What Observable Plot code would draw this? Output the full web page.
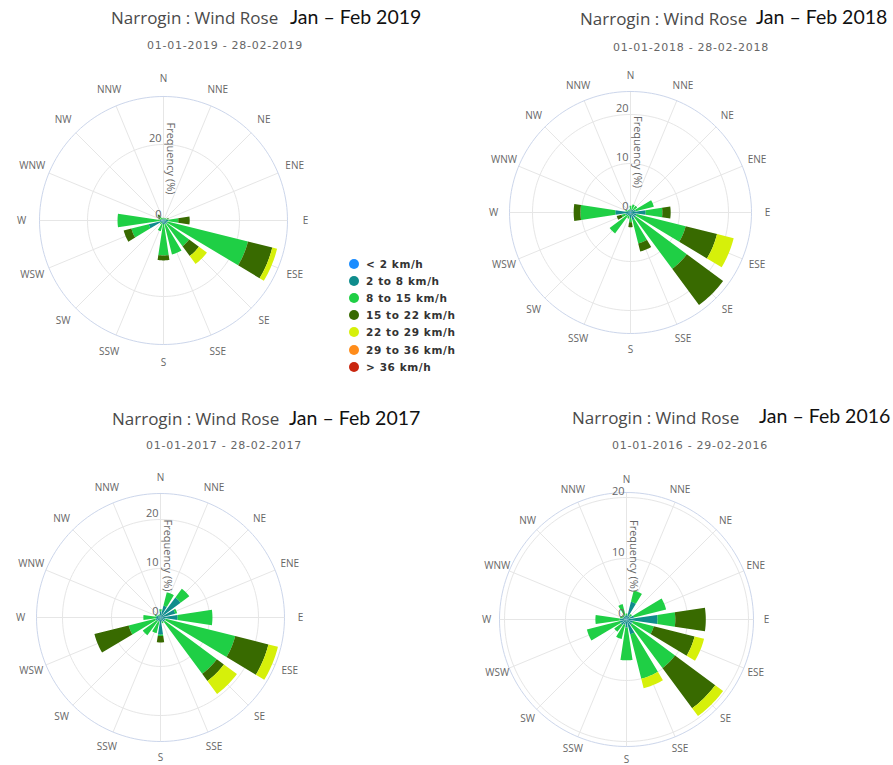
<!DOCTYPE html>
<html><head><meta charset="utf-8">
<script src="https://cdn.jsdelivr.net/npm/d3@7"></script>
<script src="https://cdn.jsdelivr.net/npm/@observablehq/plot@0.6"></script>
<style>
html,body{margin:0;padding:0;background:#fff;}
#page{position:relative;width:893px;height:765px;overflow:hidden;background:#fff;}
.t{position:absolute;white-space:nowrap;transform:translateY(-50%);line-height:1.2;}
.title{font-family:'Open Sans',sans-serif;font-size:17px;color:#4a4a4a;}
.year{font-family:Lato,'Liberation Sans',sans-serif;font-size:19.5px;color:#111;}
.sub{font-family:'DejaVu Sans',sans-serif;font-size:11px;color:#666;letter-spacing:0.75px;transform:translate(-50%,-50%);}
.legend{position:absolute;left:349px;top:255px;font-family:'DejaVu Sans',sans-serif;font-weight:bold;font-size:10.5px;letter-spacing:0.6px;color:#333;}
.legend .row{height:17.2px;display:flex;align-items:center;white-space:nowrap;}
.legend .dot{width:10px;height:10px;border-radius:50%;display:inline-block;margin-right:7px;}
svg.rose{position:absolute;}
</style></head><body><div id="page"></div>
<script>
// ---------- data ----------
const dirs = ["N","NNE","NE","ENE","E","ESE","SE","SSE","S","SSW","SW","WSW","W","WNW","NW","NNW"];
const bins = ["< 2 km/h","2 to 8 km/h","8 to 15 km/h","15 to 22 km/h","22 to 29 km/h","29 to 36 km/h","> 36 km/h"];
const binColors = ["#1a8cff","#0f8c8c","#1fcf45","#386a00","#d6f00a","#ff8c1a","#c9260f"];

// frequency (%) per speed bin (rows) and direction (columns, N..NNW)
const f2019 = [
  [0.1,0.1,0.1,0.1,0.1,0.1,0.1,0.1,0.1,0.1,0.1,0.5,0.2,0.1,0.1,0.1],
  [0.3,0.4,0.4,0.6,1.2,1.0,1.0,1.0,0.8,0.8,0.5,3.5,0.8,0.4,0.4,0.3],
  [0.3,0.2,0.3,0.5,2.6,21.8,7.3,8.1,8.3,2.0,0.6,4.7,11.1,0.6,0.8,0.3],
  [0,0,0,0.2,3.0,6.6,3.2,0,1.3,0,0,2.1,0,0.3,0.7,0],
  [0,0,0,0,0,1.3,2.6,0,0,0,0,0,0,0,0,0],
  [0,0,0,0,0,0,0,0,0,0,0,0,0,0,0,0],
  [0,0,0,0,0,0,0,0,0,0,0,0,0,0,0,0]
];
const f2018 = [
  [0.1,0.1,0.1,0.1,0.2,0.1,0.1,0.1,0.1,0.1,0.1,0.1,0.3,0.1,0.1,0.1],
  [0.5,0.6,0.6,1.0,2.9,1.2,1.2,1.5,1.0,0.7,0.6,1.0,2.8,0.6,0.4,0.4],
  [0.8,1.0,1.0,3.8,3.4,10.3,13.0,4.9,0.9,0.5,4.6,0.8,7.1,0.4,0.2,0.2],
  [0,0,0,0,1.7,6.6,9.2,1.7,1.0,0,0,1.0,1.4,0,0,0],
  [0,0,0,0,0,3.5,0,0,0,0,0,0,0,0,0,0],
  [0,0,0,0,0,0,0,0,0,0,0,0,0,0,0,0],
  [0,0,0,0,0,0,0,0,0,0,0,0,0,0,0,0]
];
const f2017 = [
  [0.1,0.1,0.1,0.1,0.1,0.1,0.1,0.1,0.1,0.1,0.1,0.1,0.1,0.1,0.1,0.1],
  [1.2,2.4,5.0,3.0,3.4,1.0,1.0,0.8,3.4,0.8,0.8,1.0,0.8,0.8,0.4,0.4],
  [0.4,2.8,2.2,0.4,7.1,14.6,13.2,0.3,0.3,2.4,3.6,5.6,2.6,0.3,0.2,0.2],
  [0,0,0,0,0,7.0,1.8,0,1.3,0,0,7.2,0,0,0,0],
  [0,0,0,0,0,2.0,3.3,0,0,0,0,0,0,0,0,0],
  [0,0,0,0,0,0,0,0,0,0,0,0,0,0,0,0],
  [0,0,0,0,0,0,0,0,0,0,0,0,0,0,0,0]
];
const f2016 = [
  [0.1,0.1,0.1,0.1,0.2,0.1,0.1,0.1,0.1,0.1,0.1,0.1,0.1,0.1,0.1,0.1],
  [0.6,2.9,0.6,1.2,4.9,1.0,1.0,2.4,1.2,0.8,1.0,1.0,1.0,0.6,0.5,0.6],
  [0.3,1.9,0.4,5.4,2.9,3.5,8.8,7.5,5.4,2.4,1.4,5.6,4.0,0.4,0.3,1.9],
  [0,0,0,0,5.0,6.9,8.2,0,0,0,0,0,0,0,0,0],
  [0,0,0,0,0,1.6,1.6,1.6,0,0,0,0,0,0,0,0],
  [0,0,0,0,0,0,0,0,0,0,0,0,0,0,0,0],
  [0,0,0,0,0,0,0,0,0,0,0,0,0,0,0,0]
];
const ticks2019 = [0, 20];
const ticks2018 = [0, 10, 20];
const ticks2017 = [0, 10, 20];
const ticks2016 = [0, 10, 20];
const chartTitle = "Narrogin : Wind Rose";
const axisTitle = "Frequency (%)";

// ---------- layout ----------
const panels = [
  {values: f2019, ticks: ticks2019, year: "Jan – Feb 2019", sub: "01-01-2019 - 28-02-2019",
   cx: 163, cy: 220, ppu: 3.8, outerPx: 124, lab: 18, tx: 111, ty: 18, yx: 290, yy: 17, sx: 225, sy: 46},
  {values: f2018, ticks: ticks2018, year: "Jan – Feb 2018", sub: "01-01-2018 - 28-02-2018",
   cx: 630, cy: 212, ppu: 4.9, outerPx: 121, lab: 16, tx: 580, ty: 19, yx: 756, yy: 17, sx: 691, sy: 48},
  {values: f2017, ticks: ticks2017, year: "Jan – Feb 2017", sub: "01-01-2017 - 28-02-2017",
   cx: 160, cy: 617, ppu: 4.9, outerPx: 124, lab: 16, tx: 112, ty: 419, yx: 289, yy: 418, sx: 224, sy: 446},
  {values: f2016, ticks: ticks2016, year: "Jan – Feb 2016", sub: "01-01-2016 - 29-02-2016",
   cx: 626, cy: 619, ppu: 6.1, outerPx: 127, lab: 13, tx: 572, ty: 418, yx: 759, yy: 416, sx: 690, sy: 446}
];

const page = document.getElementById("page");
const S = 320, C = 160, HALF_W = 8.5, rad = Math.PI / 180;

function ring(r, key) {
  return d3.range(0, 361, 2).map(a => ({key, x: r * Math.sin(a * rad), y: r * Math.cos(a * rad)}));
}

function wedges(values) {
  const rows = [];
  dirs.forEach((d, i) => {
    let base = 0;
    bins.forEach((b, j) => {
      const v = values[j][i];
      if (v > 0) {
        const key = d + "|" + j;
        const a0 = (i * 22.5 - HALF_W), a1 = (i * 22.5 + HALF_W);
        const r0 = base, r1 = base + v;
        for (let s = 0; s <= 12; s++) {
          const a = (a0 + (a1 - a0) * s / 12) * rad;
          rows.push({key, bin: b, x: r1 * Math.sin(a), y: r1 * Math.cos(a)});
        }
        for (let s = 12; s >= 0; s--) {
          const a = (a0 + (a1 - a0) * s / 12) * rad;
          rows.push({key, bin: b, x: r0 * Math.sin(a), y: r0 * Math.cos(a)});
        }
      }
      base += v;
    });
  });
  return rows;
}

function addText(cls, text, x, y) {
  const el = document.createElement("div");
  el.className = "t " + cls;
  el.textContent = text;
  el.style.left = x + "px";
  el.style.top = y + "px";
  page.appendChild(el);
}

panels.forEach(p => {
  const half = C / p.ppu;
  const outer = p.outerPx / p.ppu;
  const labelR = (p.outerPx + p.lab) / p.ppu;
  const gridRows = p.ticks.filter(t => t > 0).flatMap(t => ring(t, "g" + t));
  const svg = Plot.plot({
    width: S, height: S, margin: 0,
    x: {domain: [-half, half], axis: null},
    y: {domain: [-half, half], axis: null},
    color: {domain: bins, range: binColors},
    style: {fontFamily: "'Open Sans', sans-serif", background: "transparent", overflow: "visible"},
    marks: [
      Plot.link(dirs, {x1: () => 0, y1: () => 0,
        x2: (d, i) => outer * Math.sin(i * 22.5 * rad), y2: (d, i) => outer * Math.cos(i * 22.5 * rad),
        stroke: "#e6e6e6", strokeWidth: 1}),
      Plot.line(gridRows, {x: "x", y: "y", z: "key", stroke: "#e6e6e6", strokeWidth: 1}),
      Plot.line(ring(outer, "outer"), {x: "x", y: "y", stroke: "#ccd6eb", strokeWidth: 1}),
      Plot.line(wedges(p.values), {x: "x", y: "y", z: "key", fill: "bin", stroke: "none"}),
      Plot.text(dirs, {x: (d, i) => labelR * Math.sin(i * 22.5 * rad), y: (d, i) => labelR * Math.cos(i * 22.5 * rad),
        text: d => d, fill: "#666", fontSize: 10}),
      Plot.text(p.ticks, {x: () => 0, y: t => t, text: t => String(t), textAnchor: "end", dx: -2, dy: -6,
        fill: "#666", fontSize: 11}),
      Plot.text([axisTitle], {x: () => 7 / p.ppu, y: () => outer / 2, rotate: 90, text: d => d,
        fill: "#666", fontSize: 11})
    ]
  });
  svg.classList.add("rose");
  svg.style.left = (p.cx - C) + "px";
  svg.style.top = (p.cy - C) + "px";
  page.appendChild(svg);
  addText("title", chartTitle, p.tx, p.ty);
  addText("year", p.year, p.yx, p.yy);
  addText("sub", p.sub, p.sx, p.sy);
});

// legend
const legend = document.createElement("div");
legend.className = "legend";
bins.forEach((b, j) => {
  const row = document.createElement("div");
  row.className = "row";
  const dot = document.createElement("span");
  dot.className = "dot";
  dot.style.background = binColors[j];
  row.appendChild(dot);
  row.appendChild(document.createTextNode(b));
  legend.appendChild(row);
});
page.appendChild(legend);
</script></body></html>
